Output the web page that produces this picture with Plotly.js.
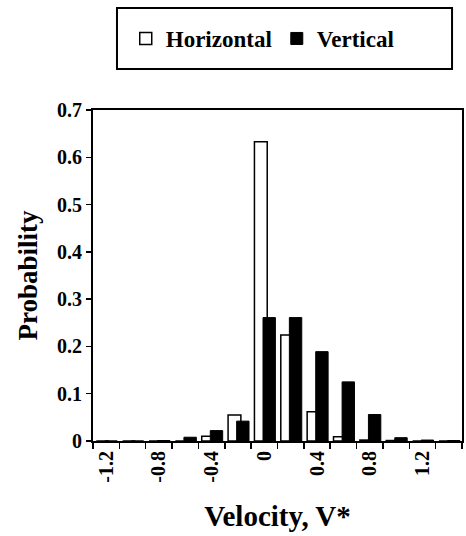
<!DOCTYPE html>
<html>
<head>
<meta charset="utf-8">
<script src="https://cdn.plot.ly/plotly-3.0.1.min.js"></script>
<style>html,body{margin:0;padding:0;background:#fff;}#chart{width:466px;height:536px;}</style>
</head>
<body>
<div id="chart"></div>
<script>
// Bin centres of velocity V*
var velocityBins = [-1.2, -1.0, -0.8, -0.6, -0.4, -0.2, 0, 0.2, 0.4, 0.6, 0.8, 1.0, 1.2, 1.4];
// Probability per bin
var horizontalProb = [0, 0, 0, 0, 0.010, 0.055, 0.633, 0.224, 0.062, 0.009, 0.002, 0.001, 0, 0];
var verticalProb   = [0, 0, 0.001, 0.008, 0.022, 0.042, 0.261, 0.261, 0.189, 0.125, 0.056, 0.007, 0.002, 0.001];
// Tick labels
var xTickVals = [-1.2, -0.8, -0.4, 0, 0.4, 0.8, 1.2];
var xTickText = ["-1.2", "-0.8", "-0.4", "0", "0.4", "0.8", "1.2"];

var serif = "Liberation Serif, Times New Roman, serif";

var traces = [
  {
    type: "bar", name: "Horizontal",
    x: velocityBins, y: horizontalProb,
    offset: -0.075, width: 0.097,
    marker: {color: "#ffffff", line: {color: "#000000", width: 1.5}}
  },
  {
    type: "bar", name: "Vertical",
    x: velocityBins, y: verticalProb,
    offset: -0.01, width: 0.094,
    marker: {color: "#000000", line: {color: "#000000", width: 1}}
  }
];

var layout = {
  width: 466, height: 536,
  margin: {l: 93, r: 4, t: 110, b: 95},
  paper_bgcolor: "#ffffff", plot_bgcolor: "#ffffff",
  barmode: "overlay",
  showlegend: true,
  legend: {
    orientation: "h", x: 0.46, xanchor: "center", y: 1.216, yanchor: "middle",
    font: {family: serif, size: 23, color: "#000", weight: "bold"},
    bgcolor: "rgba(0,0,0,0)", borderwidth: 0
  },
  shapes: [{
    type: "rect", xref: "paper", yref: "paper",
    x0: 0.065, x1: 0.973, y0: 1.124, y1: 1.308,
    line: {color: "#000", width: 2}, fillcolor: "rgba(0,0,0,0)"
  }],
  xaxis: {
    range: [-1.3, 1.5],
    tickmode: "array", tickvals: xTickVals, ticktext: xTickText,
    tickangle: -90, ticks: "", ticklen: 0,
    minor: {tickmode: "linear", tick0: -1.3, dtick: 0.2, ticks: "outside", ticklen: 6, tickwidth: 1.5, tickcolor: "#000", showgrid: false},
    tickfont: {family: serif, size: 20, color: "#000", weight: "bold"},
    showgrid: false, zeroline: false,
    showline: true, linecolor: "#000", linewidth: 2, mirror: true,
    title: {text: "Velocity, V*", font: {family: serif, size: 29, color: "#000", weight: "bold"}, standoff: 24}
  },
  yaxis: {
    range: [0, 0.7], dtick: 0.1, tick0: 0,
    ticks: "outside", ticklen: 5, tickwidth: 1.5, tickcolor: "#000",
    tickfont: {family: serif, size: 20, color: "#000", weight: "bold"},
    showgrid: false, zeroline: false,
    showline: true, linecolor: "#000", linewidth: 2, mirror: true,
    title: {text: "Probability", font: {family: serif, size: 27, color: "#000", weight: "bold"}, standoff: 12}
  }
};

Plotly.newPlot("chart", traces, layout, {displayModeBar: false, staticPlot: true});
</script>
</body>
</html>
